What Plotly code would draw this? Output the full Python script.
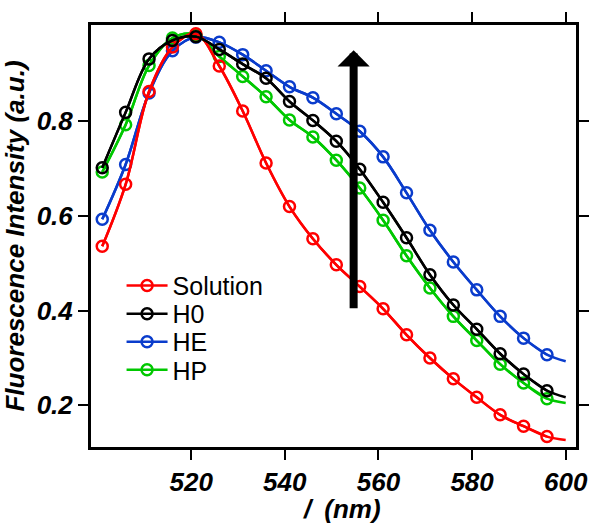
import plotly.graph_objects as go

# ---- data ----
wavelength = [501, 506, 511, 516, 521, 526, 531, 536, 541, 546,
              551, 556, 561, 566, 571, 576, 581, 586, 591, 596]
wl_end = 600

solution = [0.536, 0.667, 0.863, 0.957, 0.985, 0.917, 0.822, 0.712, 0.620, 0.552,
            0.497, 0.451, 0.404, 0.349, 0.300, 0.256, 0.217, 0.180, 0.156, 0.134]
solution_end = 0.127

h0 = [0.702, 0.819, 0.932, 0.971, 0.979, 0.952, 0.921, 0.891, 0.842, 0.802,
      0.758, 0.699, 0.629, 0.554, 0.476, 0.412, 0.361, 0.309, 0.266, 0.231]
h0_end = 0.217

he = [0.593, 0.709, 0.860, 0.949, 0.978, 0.967, 0.941, 0.907, 0.873, 0.850,
      0.816, 0.779, 0.725, 0.649, 0.570, 0.503, 0.444, 0.388, 0.342, 0.307]
he_end = 0.293

hp = [0.693, 0.793, 0.918, 0.976, 0.983, 0.937, 0.895, 0.852, 0.803, 0.767,
      0.718, 0.659, 0.591, 0.516, 0.448, 0.388, 0.337, 0.287, 0.247, 0.214]
hp_end = 0.205

series_names = ["Solution", "H0", "HE", "HP"]
x_ticks = [520, 540, 560, 580, 600]
y_ticks = [0.2, 0.4, 0.6, 0.8]
y_ticklabels = ["0.2", "0.4", "0.6", "0.8"]
x_title = "/\u2002(nm)"
y_title = "Fluorescence Intensity (a.u.)"

arrow_x = 554.7
arrow_y_tail = 0.402
arrow_y_tip = 0.950

colors = {"Solution": "#ff0000", "H0": "#000000", "HE": "#0a3ccc", "HP": "#00c800"}
data = {"Solution": (solution, solution_end), "H0": (h0, h0_end),
        "HE": (he, he_end), "HP": (hp, hp_end)}
legend_ids = {"Solution": "legend", "H0": "legend2", "HE": "legend3", "HP": "legend4"}

fig = go.Figure()
draw_order = ["HE", "HP", "Solution", "H0"]
for name in draw_order:
    ys, yend = data[name]
    c = colors[name]
    fig.add_trace(go.Scatter(
        x=wavelength + [wl_end], y=ys + [yend], mode="lines",
        line=dict(color=c, width=2.5, shape="spline"),
        showlegend=False, hoverinfo="skip"))
    fig.add_trace(go.Scatter(
        x=wavelength, y=ys, mode="lines+markers", name=name,
        line=dict(color=c, width=2.5, shape="spline"),
        marker=dict(symbol="circle-open", size=11, color=c, line=dict(width=2.5, color=c)),
        legend=legend_ids[name]))

font_fam = "Liberation Sans, Arial, sans-serif"
tickfont = dict(family=font_fam, size=26, color="black", weight="bold", style="italic")
titlefont = dict(family=font_fam, size=26, color="black", weight="bold", style="italic")

axis_common = dict(showline=True, linewidth=3, linecolor="black", mirror="ticks",
                   ticks="outside", ticklen=10, tickwidth=2, tickcolor="black",
                   showgrid=False, zeroline=False, tickfont=tickfont)

fig.update_xaxes(range=[498.6, 602.2], tickvals=x_ticks, **axis_common)
fig.update_yaxes(range=[0.112, 1.0036], tickvals=y_ticks, ticktext=y_ticklabels,
                 title=dict(text=y_title, font=titlefont, standoff=6),
                 **axis_common)

# x-axis title placed slightly right of centre, as in the reference
fig.add_annotation(x=0.517, y=-0.146, xref="paper", yref="paper",
                   xanchor="center", yanchor="middle", text=x_title,
                   showarrow=False, font=titlefont, borderpad=0)

fig.add_annotation(x=arrow_x, y=arrow_y_tip, ax=arrow_x, ay=arrow_y_tail,
                   xref="x", yref="y", axref="x", ayref="y", text="",
                   showarrow=True, arrowhead=1, arrowwidth=8, arrowsize=0.67,
                   arrowcolor="black")

legfont = dict(family=font_fam, size=25, color="black")
leg_y_px = [284.3, 312.7, 341.0, 369.3]
plot_top, plot_bot = 21, 447
legs = {}
for name, ypx in zip(series_names, leg_y_px):
    legs[legend_ids[name]] = dict(
        x=0.063, y=(plot_bot - ypx) / (plot_bot - plot_top), xanchor="left", yanchor="middle",
        bgcolor="rgba(0,0,0,0)", borderwidth=0, font=legfont, itemwidth=41)

fig.update_layout(
    width=601, height=524,
    margin=dict(l=89, r=15, t=21, b=77),
    paper_bgcolor="white", plot_bgcolor="white",
    **legs)

fig.write_html("out.html")
